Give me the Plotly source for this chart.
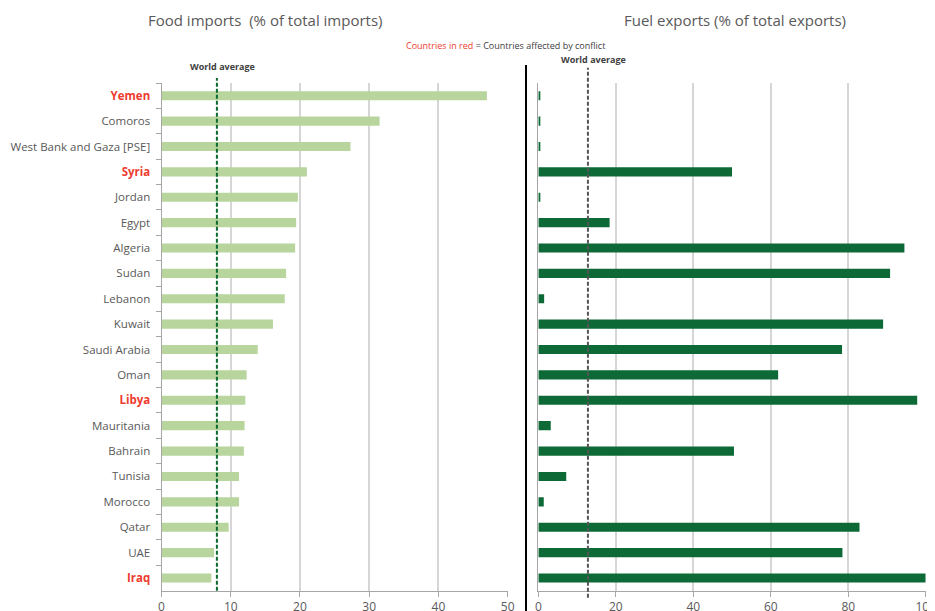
import plotly.graph_objects as go

countries = ["Yemen", "Comoros", "West Bank and Gaza [PSE]", "Syria", "Jordan", "Egypt",
             "Algeria", "Sudan", "Lebanon", "Kuwait", "Saudi Arabia", "Oman", "Libya",
             "Mauritania", "Bahrain", "Tunisia", "Morocco", "Qatar", "UAE", "Iraq"]
conflict = ["Yemen", "Syria", "Libya", "Iraq"]
food_imports = [47.0, 31.5, 27.3, 21.0, 19.7, 19.45, 19.3, 18.0, 17.8, 16.1, 13.9, 12.3,
                12.1, 12.0, 11.9, 11.2, 11.2, 9.7, 7.6, 7.2]
fuel_exports = [0.3, 0.3, 0.3, 50.0, 0.3, 18.4, 94.5, 90.8, 1.5, 89.0, 78.4, 61.9,
                97.8, 3.2, 50.5, 7.2, 1.4, 82.9, 78.5, 100.0]
world_avg_food = 8.0
world_avg_fuel = 12.8

left_ticks = [0, 10, 20, 30, 40, 50]
right_ticks = [0, 20, 40, 60, 80, 100]

FONT = "Open Sans"
RED = "#ee3b2f"
TXT = "#595959"

ticktext = [f"<b><span style='color:{RED}'>{c}</span></b>" if c in conflict else c
            for c in countries]

fig = go.Figure()
fig.add_trace(go.Bar(y=countries, x=food_imports, orientation="h", width=0.36,
                     marker=dict(color="#b7d59d", line=dict(width=0)),
                     xaxis="x", yaxis="y", showlegend=False))
fig.add_trace(go.Bar(y=countries, x=fuel_exports, orientation="h", width=0.36,
                     marker=dict(color="#0d6a36", line=dict(width=0)),
                     xaxis="x2", yaxis="y2", showlegend=False))

ydom = [0.0337, 0.8756]
axis_common = dict(showgrid=True, gridcolor="#d6d6d6", gridwidth=1.5, showline=True,
                   linecolor="#a6a6a6", linewidth=1, ticks="outside", ticklen=5,
                   tickcolor="#a6a6a6", zeroline=False, automargin=False,
                   ticklabeloverflow="allow",
                   tickfont=dict(family=FONT, size=12, color=TXT))

fig.update_layout(
    width=927, height=603,
    margin=dict(l=0, r=0, t=0, b=0),
    paper_bgcolor="white", plot_bgcolor="white",
    font=dict(family=FONT, color=TXT),
    xaxis=dict(domain=[0.1656, 0.5390], range=[0, 50], tickvals=left_ticks, anchor="y",
               **axis_common),
    yaxis=dict(domain=ydom, type="category", categoryorder="array", categoryarray=countries,
               autorange="reversed", tickvals=countries, ticktext=ticktext,
               showline=True, linecolor="#a6a6a6", ticks="outside", ticklen=5,
               tickcolor="#a6a6a6", tickson="boundaries", anchor="x", automargin=False,
               ticklabelstandoff=8,
               tickfont=dict(family=FONT, size=11.5, color=TXT), showgrid=False),
    xaxis2=dict(domain=[0.5721, 0.9900], range=[0, 100], tickvals=right_ticks, anchor="y2",
                **axis_common),
    yaxis2=dict(domain=ydom, type="category", categoryorder="array", categoryarray=countries,
                autorange="reversed", showticklabels=False, showline=True, automargin=False,
                linecolor="#a6a6a6", anchor="x2", showgrid=False),
    bargap=0.64,
)

# world average lines
fig.add_shape(type="line", xref="x", yref="y domain", x0=world_avg_food, x1=world_avg_food,
              y0=0, y1=1.01, line=dict(color="#0b6a2e", width=2, dash="4px,2px"))
fig.add_shape(type="line", xref="x2", yref="y2 domain", x0=world_avg_fuel, x1=world_avg_fuel,
              y0=-0.014, y1=1.03, line=dict(color="#555555", width=2, dash="4px,2px"))

# separator line
fig.add_shape(type="line", xref="paper", yref="paper", x0=0.5588, x1=0.5588, y0=0, y1=0.9055,
              line=dict(color="black", width=2))

annotations = [
    dict(x=0.2783, y=0.980, text="Food imports  (% of total imports)",
         font=dict(family=FONT, size=15, color=TXT)),
    dict(x=0.7843, y=0.980, text="Fuel exports (% of total exports)",
         font=dict(family=FONT, size=15, color=TXT)),
    dict(x=0.5372, y=0.9386,
         text=f"<span style='color:{RED}'>Countries in red</span> = Countries affected by conflict",
         font=dict(family=FONT, size=9, color="#404040")),
    dict(x=0.2319, y=0.9022, text="<b>World average</b>",
         font=dict(family=FONT, size=9, color="#404040")),
    dict(x=0.6311, y=0.9138, text="<b>World average</b>",
         font=dict(family=FONT, size=9, color="#404040")),
]
for a in annotations:
    fig.add_annotation(xref="paper", yref="paper", showarrow=False, xanchor="center",
                       yanchor="middle", **a)

fig.write_html("out.html")
